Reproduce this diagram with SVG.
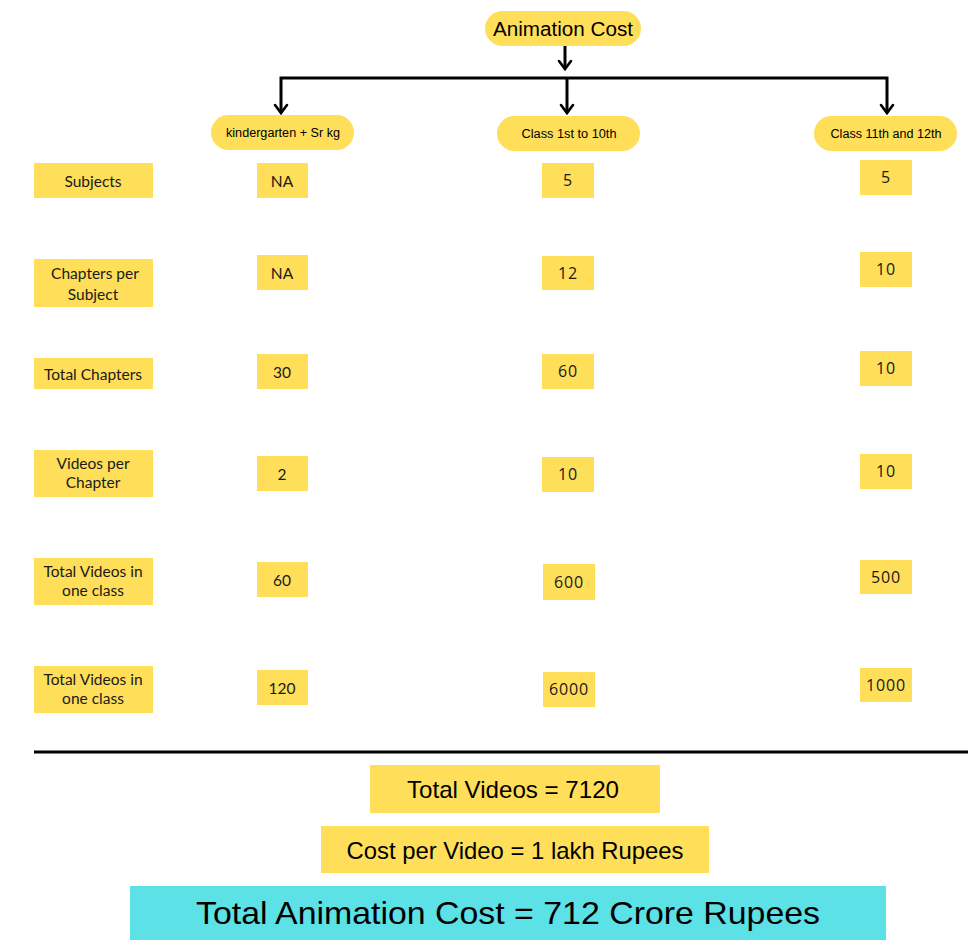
<svg xmlns="http://www.w3.org/2000/svg" width="968" height="952" viewBox="0 0 968 952">
<style>
.y{fill:#FFDE59}
.c{fill:#5CE1E6}
.t{font-family:"Lato","Open Sans",sans-serif;font-size:15.5px;fill:#1a1a1a;text-anchor:middle}
.v{font-family:"Lato","Open Sans",sans-serif;font-size:15.5px;fill:#1a1a1a;text-anchor:middle}
.w{font-family:"Open Sans","DejaVu Sans",sans-serif;font-size:16px;fill:#1a1a1a;text-anchor:middle;letter-spacing:0.8px}
.h{font-family:"Liberation Sans","Arial",sans-serif;fill:#000;text-anchor:middle}
.ln{stroke:#000;stroke-width:3;fill:none}
.hd{stroke:#000;stroke-width:2.6;fill:none;stroke-linecap:round;stroke-linejoin:miter}
</style>
<rect width="968" height="952" fill="#fff"/>

<g id="connectors">
<line class="ln" x1="565" y1="46" x2="565" y2="69"/>
<path class="hd" d="M559,61 L565,69 L571,61"/>
<polyline class="ln" points="281,113 281,78 887,78 887,113"/>
<line class="ln" x1="567" y1="78" x2="567" y2="113"/>
<path class="hd" d="M275,105 L281,113 L287,105"/>
<path class="hd" d="M561,105 L567,113 L573,105"/>
<path class="hd" d="M881,105 L887,113 L893,105"/>
<line x1="34" y1="752" x2="968" y2="752" stroke="#000" stroke-width="3"/>
</g>

<g id="root"><rect class="y" x="485" y="11" width="156" height="35" rx="17.5"/>
<text class="h" x="563" y="36" font-size="20" textLength="140" lengthAdjust="spacingAndGlyphs">Animation Cost</text></g>

<g id="kg"><rect class="y" x="211" y="115" width="143" height="35" rx="17.5"/>
<text class="h" x="283" y="137" font-size="12" textLength="114" lengthAdjust="spacingAndGlyphs">kindergarten + Sr kg</text></g>
<g id="class1to10"><rect class="y" x="497" y="116" width="143" height="35" rx="17.5"/>
<text class="h" x="569" y="138" font-size="12" textLength="95" lengthAdjust="spacingAndGlyphs">Class 1st to 10th</text></g>
<g id="class11and12"><rect class="y" x="814" y="116" width="143" height="35" rx="17.5"/>
<text class="h" x="886" y="138" font-size="12" textLength="111" lengthAdjust="spacingAndGlyphs">Class 11th and 12th</text></g>

<g id="lbl-subjects"><rect class="y" x="34" y="163" width="119" height="35"/><text class="t" x="93" y="187">Subjects</text></g>
<g id="lbl-chapters"><rect class="y" x="34" y="259" width="119" height="48"/><text class="t" x="95" y="279">Chapters per</text><text class="t" x="93" y="300">Subject</text></g>
<g id="lbl-totalchapters"><rect class="y" x="34" y="358" width="119" height="31"/><text class="t" x="93" y="380">Total Chapters</text></g>
<g id="lbl-videos"><rect class="y" x="34" y="450" width="119" height="47"/><text class="t" x="93" y="469">Videos per</text><text class="t" x="93" y="488">Chapter</text></g>
<g id="lbl-totalvideos1"><rect class="y" x="34" y="558" width="119" height="47"/><text class="t" x="93" y="577">Total Videos in</text><text class="t" x="93" y="596">one class</text></g>
<g id="lbl-totalvideos2"><rect class="y" x="34" y="666" width="119" height="47"/><text class="t" x="93" y="685">Total Videos in</text><text class="t" x="93" y="704">one class</text></g>

<g id="kg-subjects"><rect class="y" x="257" y="163" width="51" height="35"/><text class="v" x="282" y="187">NA</text></g>
<g id="kg-chapters"><rect class="y" x="257" y="255" width="51" height="35"/><text class="v" x="282" y="279">NA</text></g>
<g id="kg-total"><rect class="y" x="257" y="354" width="51" height="35"/><text class="v" x="282" y="378">30</text></g>
<g id="kg-videos"><rect class="y" x="257" y="456" width="51" height="35"/><text class="v" x="282" y="480">2</text></g>
<g id="kg-class"><rect class="y" x="257" y="562" width="51" height="35"/><text class="v" x="282" y="586">60</text></g>
<g id="kg-all"><rect class="y" x="257" y="670" width="51" height="35"/><text class="v" x="282" y="694">120</text></g>

<g id="c2-subjects"><rect class="y" x="542" y="163" width="52" height="35"/><text class="w" x="568" y="186">5</text></g>
<g id="c2-chapters"><rect class="y" x="542" y="256" width="52" height="34"/><text class="w" x="568" y="279">12</text></g>
<g id="c2-total"><rect class="y" x="542" y="354" width="52" height="35"/><text class="w" x="568" y="377">60</text></g>
<g id="c2-videos"><rect class="y" x="542" y="457" width="52" height="35"/><text class="w" x="568" y="480">10</text></g>
<g id="c2-class"><rect class="y" x="543" y="564" width="52" height="36"/><text class="w" x="569" y="588">600</text></g>
<g id="c2-all"><rect class="y" x="543" y="672" width="52" height="35"/><text class="w" x="569" y="695">6000</text></g>

<g id="c3-subjects"><rect class="y" x="860" y="160" width="52" height="35"/><text class="w" x="886" y="183">5</text></g>
<g id="c3-chapters"><rect class="y" x="860" y="252" width="52" height="35"/><text class="w" x="886" y="275">10</text></g>
<g id="c3-total"><rect class="y" x="860" y="351" width="52" height="35"/><text class="w" x="886" y="374">10</text></g>
<g id="c3-videos"><rect class="y" x="860" y="454" width="52" height="35"/><text class="w" x="886" y="477">10</text></g>
<g id="c3-class"><rect class="y" x="860" y="560" width="52" height="34"/><text class="w" x="886" y="583">500</text></g>
<g id="c3-all"><rect class="y" x="860" y="668" width="52" height="34"/><text class="w" x="886" y="691">1000</text></g>

<g id="totalvideos"><rect class="y" x="370" y="765" width="290" height="48"/>
<text class="h" x="513" y="798" font-size="24" textLength="212" lengthAdjust="spacingAndGlyphs">Total Videos = 7120</text></g>
<g id="costpervideo"><rect class="y" x="321" y="826" width="388" height="47"/>
<text class="h" x="515" y="859" font-size="24" textLength="337" lengthAdjust="spacingAndGlyphs">Cost per Video = 1 lakh Rupees</text></g>
<g id="totalcost"><rect class="c" x="130" y="886" width="756" height="54"/>
<text class="h" x="508" y="924" font-size="32" textLength="624" lengthAdjust="spacingAndGlyphs">Total Animation Cost = 712 Crore Rupees</text></g>
</svg>
